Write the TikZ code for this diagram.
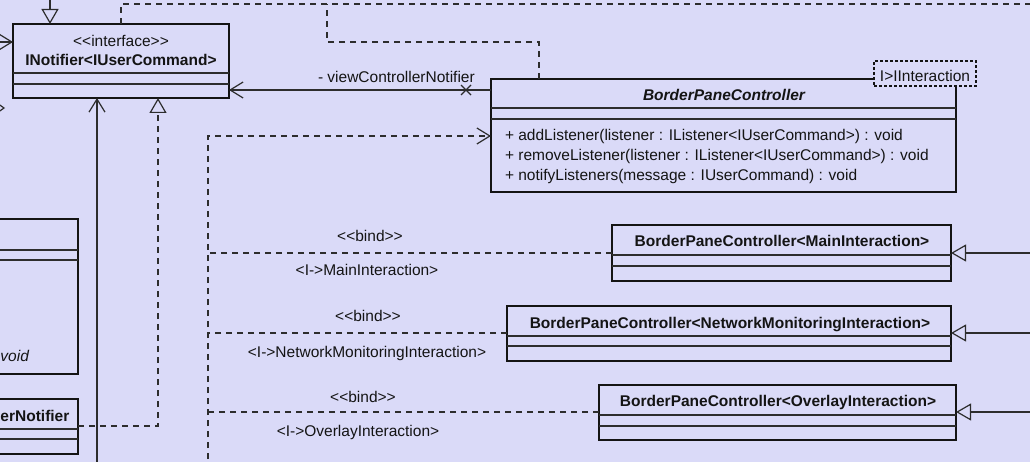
\documentclass[tikz,border=0pt]{standalone}
\usepackage{fontspec}
\setmainfont{Liberation Sans}
\usetikzlibrary{arrows.meta,calc}
\definecolor{bg}{RGB}{218,218,248}
\definecolor{ink}{RGB}{20,20,20}
\definecolor{lin}{RGB}{45,45,45}
\begin{document}
\begin{tikzpicture}[x=1pt,y=-1pt,
  every node/.style={inner sep=0pt, outer sep=0pt, text=ink, font=\fontsize{15.5}{20}\selectfont},
  cls/.style={draw=ink, line width=2.2pt, fill=bg, anchor=north west},
  sep/.style={draw=lin, line width=1.3pt},
  conn/.style={draw=lin, line width=1.2pt},
  assoc/.style={conn, -{Straight Barb[length=13pt,width=16pt]}},
  gen/.style={conn, -{Triangle[length=15pt,width=17pt,fill=bg]}},
  dep/.style={conn, dash pattern=on 6pt off 5pt},
  real/.style={dep, -{Triangle[length=15pt,width=17pt,fill=bg]}},
  depar/.style={dep, -{Straight Barb[length=13pt,width=16pt]}},
  lbl/.style={anchor=base},
  lblw/.style={anchor=base west},
  lble/.style={anchor=base east}
]
\useasboundingbox (0,0) rectangle (1030,462);
\fill[bg] (0,0) rectangle (1030,462);
\clip (0,0) rectangle (1030,462);

% ---------- classes ----------
\node[cls, minimum width=216pt, minimum height=74pt] (inot) at (13,24) {};
\draw[sep] ($(inot.north west)+(0,49)$) -- ($(inot.north east)+(0,49)$);
\draw[sep] ($(inot.north west)+(0,60)$) -- ($(inot.north east)+(0,60)$);
\node[lbl] (inotst) at (121,46.5) {<{}<interface>{}>};
\node[lbl, font=\fontsize{15.5}{20}\selectfont\bfseries] (inotname) at (121,65.5) {INotifier<IUserCommand>};

\node[cls, minimum width=465pt, minimum height=113pt] (bpc) at (491,79) {};
\draw[sep] ($(bpc.north west)+(0,29)$) -- ($(bpc.north east)+(0,29)$);
\draw[sep] ($(bpc.north west)+(0,40)$) -- ($(bpc.north east)+(0,40)$);
\node[lbl, font=\fontsize{15.5}{20}\selectfont\bfseries\itshape] (bpcname) at (724,100.5) {BorderPaneController};
\node[lblw] (m1t) at (505,140.5) {+ addListener(listener : IListener<IUserCommand>) : void};
\node[lblw] (m2t) at (505,160.5) {+ removeListener(listener : IListener<IUserCommand>) : void};
\node[lblw] (m3t) at (505,180.5) {+ notifyListeners(message : IUserCommand) : void};
\node[draw=ink, line width=1.3pt, dash pattern=on 3pt off 2pt, fill=bg, anchor=north west,
      minimum width=102pt, minimum height=25pt] (tp) at (874,61) {};
\node[lbl] (tpt) at (925,81.5) {I>IInteraction};

\node[cls, minimum width=339pt, minimum height=56pt] (main) at (612,225) {};
\draw[sep] ($(main.north west)+(0,30)$) -- ($(main.north east)+(0,30)$);
\draw[sep] ($(main.north west)+(0,41)$) -- ($(main.north east)+(0,41)$);
\node[lbl, font=\fontsize{15.5}{20}\selectfont\bfseries] (mainname) at (782,247) {BorderPaneController<MainInteraction>};

\node[cls, minimum width=444pt, minimum height=55pt] (net) at (507,306) {};
\draw[sep] ($(net.north west)+(0,30)$) -- ($(net.north east)+(0,30)$);
\draw[sep] ($(net.north west)+(0,40)$) -- ($(net.north east)+(0,40)$);
\node[lbl, font=\fontsize{15.5}{20}\selectfont\bfseries] (netname) at (730,328) {BorderPaneController<NetworkMonitoringInteraction>};

\node[cls, minimum width=357pt, minimum height=55pt] (ovl) at (599,385) {};
\draw[sep] ($(ovl.north west)+(0,30)$) -- ($(ovl.north east)+(0,30)$);
\draw[sep] ($(ovl.north west)+(0,41)$) -- ($(ovl.north east)+(0,41)$);
\node[lbl, font=\fontsize{15.5}{20}\selectfont\bfseries] (ovlname) at (778,406.5) {BorderPaneController<OverlayInteraction>};

\node[cls, minimum width=110pt, minimum height=155pt] (left1) at (-32,219) {};
\draw[sep] ($(left1.north west)+(0,31)$) -- ($(left1.north east)+(0,31)$);
\draw[sep] ($(left1.north west)+(0,41)$) -- ($(left1.north east)+(0,41)$);
\node[lblw, font=\fontsize{15.5}{20}\selectfont\itshape] (left1t) at (0.5,361) {void};

\node[cls, minimum width=110pt, minimum height=55pt] (left2) at (-32,399) {};
\draw[sep] ($(left2.north west)+(0,30)$) -- ($(left2.north east)+(0,30)$);
\draw[sep] ($(left2.north west)+(0,40)$) -- ($(left2.north east)+(0,40)$);
\node[lblw, font=\fontsize{15.5}{20}\selectfont\bfseries] (left2t) at (0.5,421.5) {erNotifier};

% ---------- connectors ----------
\coordinate (topin) at (50,-5);
\draw[gen] (topin) -- (topin |- inot.north);

\coordinate (lftin) at (-5,42);
\draw[assoc] (lftin) -- (lftin -| inot.west);

\coordinate (frag) at (4,108);
\draw[conn] ($(frag)+(-7,-5)$) -- (frag) -- ($(frag)+(-7,5)$);

\coordinate (a1) at ($(bpc.north west)+(0,11)$);
\draw[assoc] (a1) -- (a1 -| inot.east);
\draw[conn] ($(a1)+(-30,-5)$) -- ($(a1)+(-20,5)$);
\draw[conn] ($(a1)+(-30,5)$) -- ($(a1)+(-20,-5)$);
\node[lblw] (a1t) at (318,82.5) {- viewControllerNotifier};

\coordinate (topr) at (1040,4);
\draw[dep] (inot.north) |- (topr);
\coordinate (j1) at (327,4);
\draw[dep] ($(bpc.north west)+(48,0)$) -- ++(0,-37) -| (j1);

\coordinate (botl) at (97,470);
\draw[assoc] (botl) -- (botl |- inot.south);

\coordinate (l2a) at ($(left2.north east)+(0,27)$);
\draw[real] (l2a) -| ($(inot.south west)+(145,0)$);

\coordinate (bpcin) at ($(bpc.north west)+(0,57)$);
\coordinate (busbot) at (208,470);
\draw[depar] (busbot) -- (busbot |- bpcin) -- (bpcin);

\coordinate (bm) at ($(main.north west)+(0,28)$);
\coordinate (bn) at ($(net.north west)+(0,27)$);
\coordinate (bo) at ($(ovl.north west)+(0,27)$);
\draw[dep] (bm) -- (bm -| busbot);
\draw[dep] (bn) -- (bn -| busbot);
\draw[dep] (bo) -- (bo -| busbot);

\node[lbl] (bm1) at (370,241.5) {<{}<bind>{}>};
\node[lbl] (bm2) at (367,275.5) {<I->MainInteraction>};
\node[lbl] (bn1) at (368,321.5) {<{}<bind>{}>};
\node[lbl] (bn2) at (367,357) {<I->NetworkMonitoringInteraction>};
\node[lbl] (bo1) at (363,402) {<{}<bind>{}>};
\node[lbl] (bo2) at (358,436) {<I->OverlayInteraction>};

\coordinate (rm) at (1040,253);
\coordinate (rn) at (1040,333);
\coordinate (ro) at (1040,412);
\draw[gen] (rm) -- (rm -| main.east);
\draw[gen] (rn) -- (rn -| net.east);
\draw[gen] (ro) -- (ro -| ovl.east);
\end{tikzpicture}
\end{document}
